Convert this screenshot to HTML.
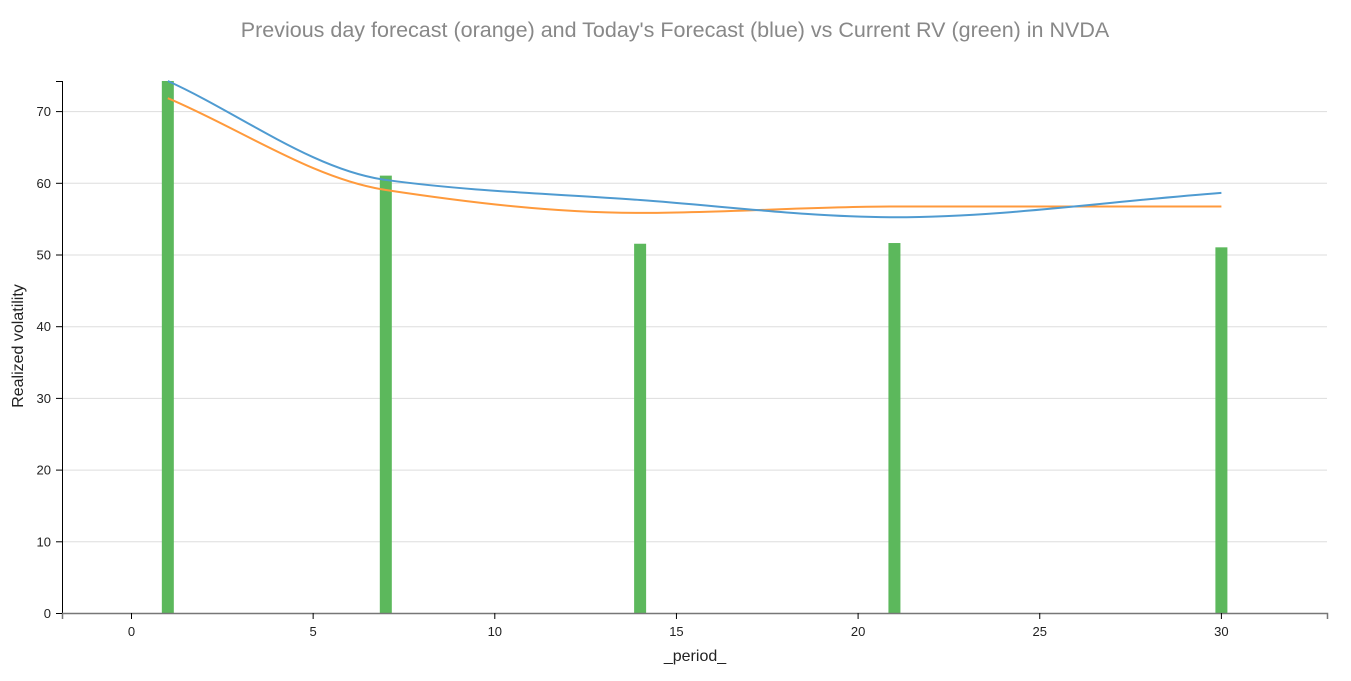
<!DOCTYPE html>
<html><head><meta charset="utf-8"><style>
html,body{margin:0;padding:0;background:#fff;}
svg{display:block;font-family:"Liberation Sans",Arial,sans-serif;}
</style></head><body>
<svg id="s" width="1351" height="681" viewBox="0 0 1351 681">
<text x="675" y="37" text-anchor="middle" font-size="21.5" fill="#888">Previous day forecast (orange) and Today's Forecast (blue) vs Current RV (green) in NVDA</text>
<g id="grid" stroke="#ddd" stroke-width="1"></g>
<g id="bars" fill="#5cb85c"></g>
<path id="orange" fill="none" stroke="#ff9a3c" stroke-width="2"/>
<path id="blue" fill="none" stroke="#4f9bd1" stroke-width="2"/>
<g id="axes" font-size="13" fill="#222"></g>
<text x="695" y="661" text-anchor="middle" font-size="16" fill="#222">_period_</text>
<text transform="translate(23,346) rotate(-90)" text-anchor="middle" font-size="16" fill="#222">Realized volatility</text>
</svg>
<script>
var ns="http://www.w3.org/2000/svg";
function X(v){return 131.5+v*36.33;}
function Y(v){return 613-v*7.17;}
function el(p,t,a,txt){var e=document.createElementNS(ns,t);for(var k in a)e.setAttribute(k,a[k]);if(txt!==undefined)e.textContent=txt;p.appendChild(e);return e;}
var g=document.getElementById('grid'),ax=document.getElementById('axes'),b=document.getElementById('bars');
for(var v=10;v<=70;v+=10)el(g,'line',{x1:62,x2:1327,y1:Y(v)+.5,y2:Y(v)+.5});
var bars=[[1,74.2],[7,61],[14,51.5],[21,51.6],[30,51]];
bars.forEach(function(d){el(b,'rect',{x:X(d[0])-6,y:Y(d[1]),width:12,height:Y(0)-Y(d[1])});});
el(ax,'path',{d:'M56,81.5H62.5V613.5H56',fill:'none',stroke:'#000','stroke-width':1});
el(ax,'path',{d:'M62.5,619V613.5H1327.5V619',fill:'none',stroke:'#777','stroke-width':1.5});
for(var v=0;v<=70;v+=10){el(ax,'line',{x1:56,x2:62,y1:Y(v)+.5,y2:Y(v)+.5,stroke:'#000'});el(ax,'text',{x:51,y:Y(v)+5,'text-anchor':'end'},v);}
for(var v=0;v<=30;v+=5){el(ax,'line',{x1:X(v),x2:X(v),y1:613,y2:619,stroke:'#000'});el(ax,'text',{x:X(v),y:636,'text-anchor':'middle'},v);}
function mono(pts){
 var n=pts.length,xs=pts.map(p=>p[0]),ys=pts.map(p=>p[1]),d=[],m=[];
 for(var i=0;i<n-1;i++)d.push((ys[i+1]-ys[i])/(xs[i+1]-xs[i]));
 m[0]=d[0];m[n-1]=d[n-2];
 for(i=1;i<n-1;i++){ if(d[i-1]*d[i]<=0)m[i]=0; else { var h0=xs[i]-xs[i-1],h1=xs[i+1]-xs[i]; m[i]=(3*(h0+h1))/((2*h1+h0)/d[i-1]+(h1+2*h0)/d[i]);} }
 var s='M'+xs[0]+','+ys[0];
 for(i=0;i<n-1;i++){var h=(xs[i+1]-xs[i])/3;s+='C'+(xs[i]+h)+','+(ys[i]+m[i]*h)+','+(xs[i+1]-h)+','+(ys[i+1]-m[i+1]*h)+','+xs[i+1]+','+ys[i+1];}
 return s;}
var blue=[[1,74.2],[7,60.4],[14,57.6],[21,55.2],[30,58.6]];
var orange=[[1,71.8],[7,59],[14,55.8],[21,56.7],[30,56.7]];
document.getElementById('blue').setAttribute('d',mono(blue.map(p=>[X(p[0]),Y(p[1])])));
document.getElementById('orange').setAttribute('d',mono(orange.map(p=>[X(p[0]),Y(p[1])])));
</script>
</body></html>
